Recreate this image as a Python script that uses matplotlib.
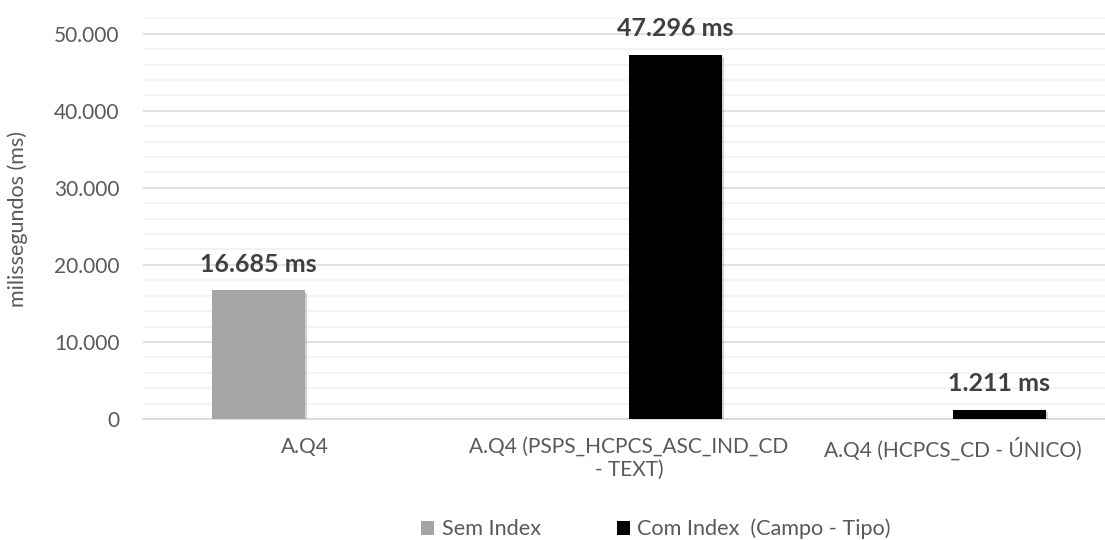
import matplotlib.pyplot as plt
import matplotlib.patheffects as pe
import numpy as np
from matplotlib.ticker import MultipleLocator, FuncFormatter
from matplotlib.patches import Patch

plt.rcParams['font.family'] = ['Lato', 'DejaVu Sans']

# Query timings (ms)
categories = ['A.Q4', 'A.Q4 (PSPS_HCPCS_ASC_IND_CD\n- TEXT)', 'A.Q4 (HCPCS_CD - ÚNICO)']
sem_index = [16685, 0, 0]
com_index = [0, 47296, 1211]
series_names = ['Sem Index', 'Com Index  (Campo - Tipo)']
series_colors = ['#A5A5A5', '#000000']

W, H = 1105, 540
fig = plt.figure(figsize=(W / 100, H / 100), dpi=100)
ax = fig.add_axes([143 / W, (H - 419) / H, 972 / W, (419 - 18.3) / H])

x = np.arange(len(categories))
bw = 0.287
shadow = [pe.SimplePatchShadow(offset=(1.5, -1.5), shadow_rgbFace='#7F7F7F', alpha=0.35), pe.Normal()]

for vals, off, color in [(sem_index, -bw / 2, series_colors[0]), (com_index, bw / 2, series_colors[1])]:
    for xi, v in zip(x, vals):
        if v == 0:
            continue
        ax.bar(xi + off, v, width=bw, color=color, zorder=3, path_effects=shadow)
        ax.text(xi + off, v + 1900, f'{v / 1000:.3f} ms', ha='center', va='bottom',
                fontsize=18, fontweight='bold', color='#404040', zorder=4)

ax.set_xlim(-0.5, 2.5)
ax.set_ylim(0, 52000)
ax.yaxis.set_major_locator(MultipleLocator(10000))
ax.yaxis.set_minor_locator(MultipleLocator(2000))
ax.yaxis.set_major_formatter(FuncFormatter(lambda v, p: f'{int(v):,}'.replace(',', '.')))
ax.grid(axis='y', which='major', color='#D9D9D9', linewidth=1.1, zorder=0)
ax.grid(axis='y', which='minor', color='#F0F0F0', linewidth=1.1, zorder=0)
ax.set_axisbelow(True)

for s in ['top', 'right', 'left']:
    ax.spines[s].set_visible(False)
ax.spines['bottom'].set_color('#D9D9D9')
ax.spines['bottom'].set_linewidth(1.2)

ax.set_xticks(x)
ax.set_xticklabels(categories, fontsize=15, color='#595959', linespacing=1.15)
ax.tick_params(axis='x', length=0, pad=13)
ax.tick_params(axis='y', which='both', length=0, labelsize=15, labelcolor='#595959', pad=17)

fig.text(18 / W, 1 - 219 / H, 'milissegundos (ms)', rotation=90, ha='center', va='center',
         fontsize=15.5, color='#595959')

handles = [Patch(facecolor=c, edgecolor='none') for c in series_colors]
fig.legend(handles, series_names, loc='center', bbox_to_anchor=(656 / W, 1 - 529 / H),
           ncol=2, frameon=False, fontsize=15.6, labelcolor='#595959',
           handlelength=0.6, handleheight=0.6, handletextpad=0.35, columnspacing=3.5)

fig.savefig('out.png', dpi=100)
